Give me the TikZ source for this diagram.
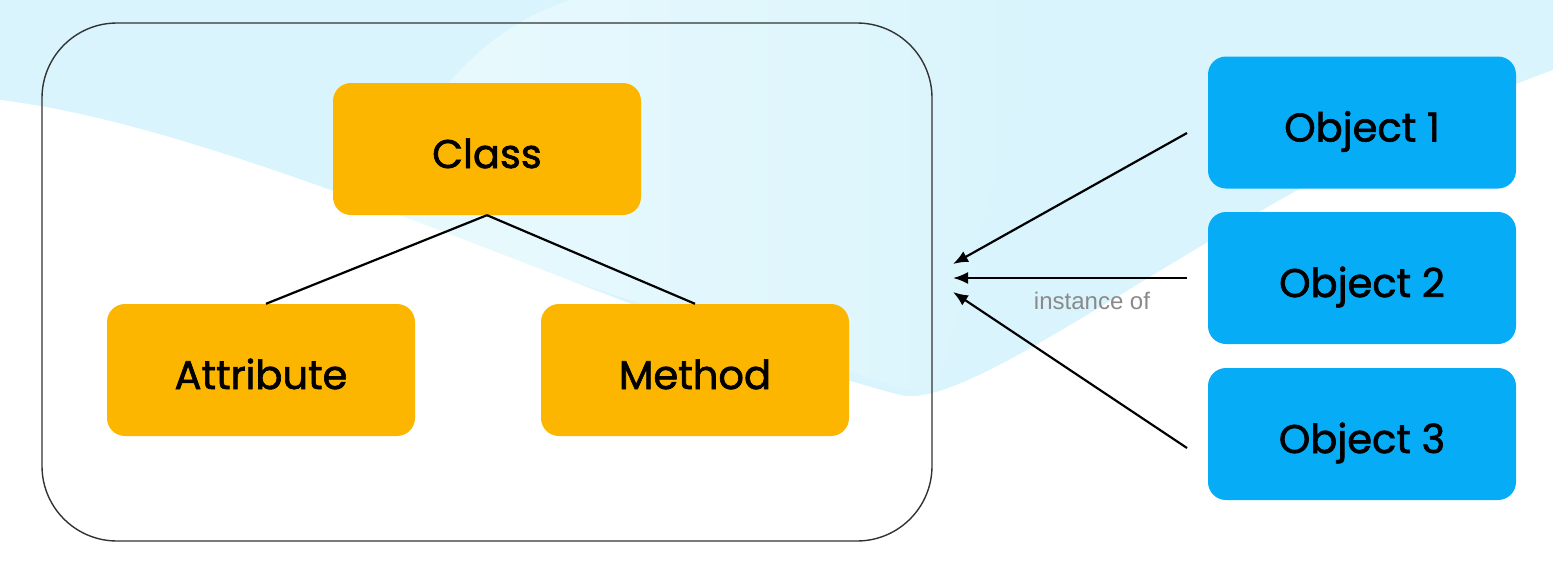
\documentclass[tikz,border=0pt]{standalone}
\usepackage{fontspec}
\setmainfont{Poppins}
\newfontfamily\boxfont{Poppins}[FakeBold=1.6]
\newfontfamily\labelfont{Liberation Sans}
\usetikzlibrary{arrows.meta}
\definecolor{bgblue}{HTML}{D9F4FC}
\definecolor{bgpale}{HTML}{EAFAFD}
\definecolor{classfill}{HTML}{FDB600}
\definecolor{objfill}{HTML}{06ACF6}
\definecolor{framecol}{HTML}{333333}
\definecolor{labelgray}{HTML}{8A8A8A}
\tikzset{
  box/.style={rectangle, rounded corners=18pt, minimum width=308pt, minimum height=132pt, inner sep=0pt, text height=38pt, text depth=0pt, font=\boxfont\fontsize{40}{44}\selectfont, text=black},
  classbox/.style={box, fill=classfill},
  objbox/.style={box, fill=objfill},
  frame/.style={rectangle, rounded corners=75pt, draw=framecol, line width=1.4pt, minimum width=890pt, minimum height=518pt, inner sep=0pt},
  treeline/.style={line width=2.2pt, black},
  instarrow/.style={line width=2.2pt, black, -{Latex[length=15pt,width=12pt]}},
  instlabel/.style={font=\labelfont\fontsize{24}{26}\selectfont, text=labelgray}
}
\begin{document}
\begin{tikzpicture}[x=1pt,y=-1pt]
\useasboundingbox (0,0) rectangle (1553,562);
% background
\fill[bgblue] (0,0) rectangle (1553,562);
\shade[left color=bgpale, right color=bgblue] (370,215) .. controls (420,100) and (480,30) .. (570,0) -- (1050,0) .. controls (1000,150) and (960,300) .. (936,400) -- cycle;
\fill[white] (0,100) .. controls (250,130) and (650,330) .. (900,395) .. controls (980,415) and (1250,180) .. (1553,70) -- (1553,562) -- (0,562) -- cycle;
% container
\node[frame] (frame) at (487,282) {};
% class tree
\node[classbox] (class) at (487,149) {Class};
\node[classbox] (attr) at (261,370) {Attribute};
\node[classbox] (meth) at (695,370) {Method};
\draw[treeline] (class.south) -- ([xshift=5pt]attr.north);
\draw[treeline] (class.south) -- (meth.north);
% objects
\node[objbox] (obj1) at (1362,122.5) {Object 1};
\node[objbox] (obj2) at (1362,278) {Object 2};
\node[objbox] (obj3) at (1362,434) {Object 3};
% instance arrows
\coordinate (s1) at (1187,133);
\coordinate (s2) at (1187,278);
\coordinate (s3) at (1187,448);
\coordinate (t1) at (953,264);
\coordinate (t2) at (953,278);
\coordinate (t3) at (953,292);
\draw[instarrow] (s1) -- (t1);
\draw[instarrow] (s2) -- (t2);
\draw[instarrow] (s3) -- (t3);
\node[instlabel] (inst) at (1092,301) {instance of};
\end{tikzpicture}
\end{document}
